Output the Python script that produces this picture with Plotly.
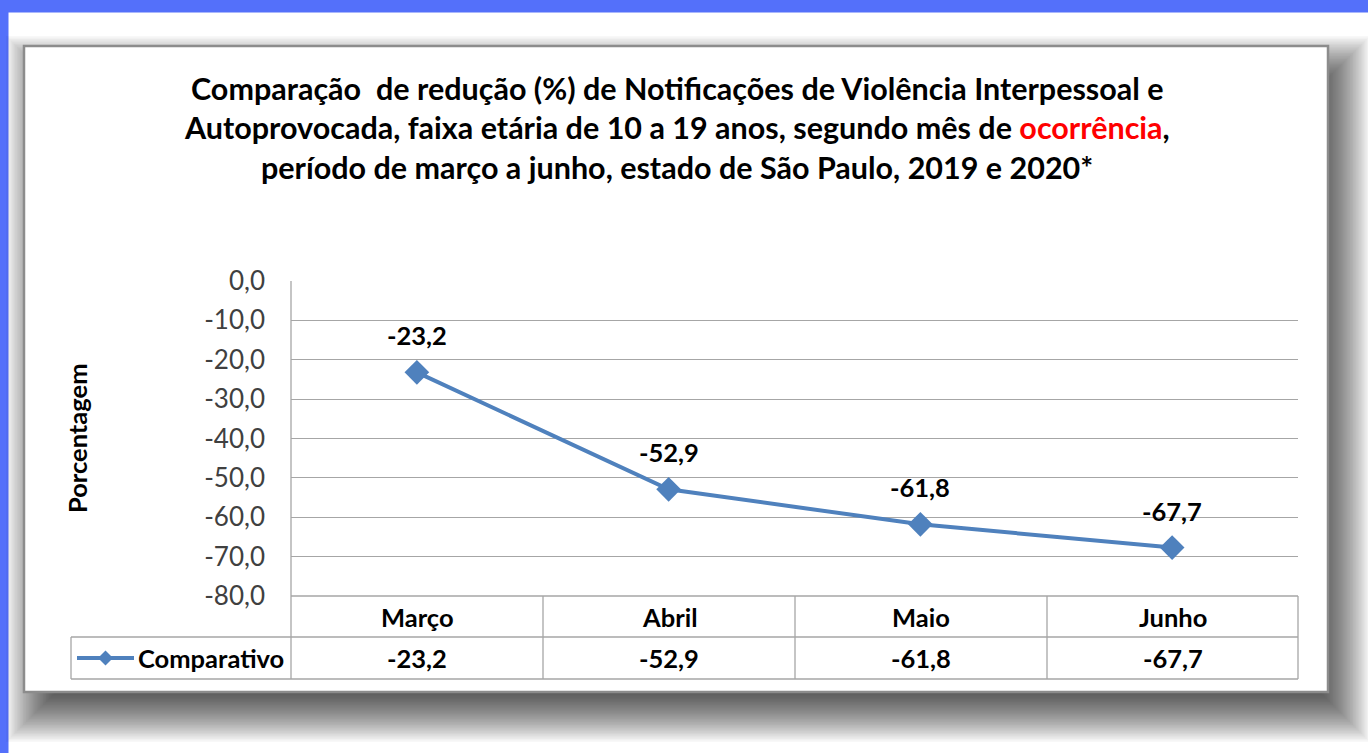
import plotly.graph_objects as go

# ---------------- data ----------------
months = ["Março", "Abril", "Maio", "Junho"]
comparativo = [-23.2, -52.9, -61.8, -67.7]
series_name = "Comparativo"
y_ticks = [0, -10, -20, -30, -40, -50, -60, -70, -80]
title_lines = [
    "Comparação  de redução (%) de Notificações de Violência Interpessoal e",
    "Autoprovocada, faixa etária de 10 a 19 anos, segundo mês de <span style='color:#FF0000'>ocorrência</span>,",
    "período de março a junho, estado de São Paulo, 2019 e 2020*",
]
y_title = "Porcentagem"

def fmt(v):
    return f"{v:.1f}".replace(".", ",")

# ---------------- geometry helpers ----------------
W, H = 1368, 753
def X(p): return p / W
def Y(p): return 1 - p / H

FONT = "Lato"
LINE_COLOR = "#4F81BD"
GRID = "#A6A6A6"
TXT = 25.5

plot_l, plot_r, plot_t, plot_b = 291, 1298, 281, 596
tab_l, row1_b, row2_b = 71, 637, 679
col_edges = [291, 543, 795, 1047, 1298]

fig = go.Figure()
fig.add_trace(go.Scatter(
    x=list(range(len(months))), y=comparativo, mode="lines+markers",
    line=dict(color=LINE_COLOR, width=4),
    marker=dict(symbol="diamond", size=19, color=LINE_COLOR),
    showlegend=False, hoverinfo="skip",
))

shapes = []
# blue frame
shapes.append(dict(type="rect", xref="paper", yref="paper", x0=0, x1=1, y0=Y(12.5), y1=1,
                   fillcolor="#5470FA", line_width=0, layer="below"))
shapes.append(dict(type="rect", xref="paper", yref="paper", x0=0, x1=X(8.5), y0=0, y1=1,
                   fillcolor="#5470FA", line_width=0, layer="below"))
# soft shadow (stacked translucent rectangles)
bl, bt, br, bb = 24, 46, 1328, 692
ox, oy, blur, N = 12, 20, 30, 40
for k in range(N):
    s = blur - 2 * blur * k / (N - 1)
    shapes.append(dict(type="rect", xref="paper", yref="paper",
                       x0=X(bl + ox - s), x1=X(br + ox + s),
                       y0=Y(bb + oy + s), y1=Y(max(bt + oy - s, 13)),
                       fillcolor="rgba(0,0,0,0.026)", line_width=0, layer="below"))
# chart box
shapes.append(dict(type="rect", xref="paper", yref="paper", x0=X(bl), x1=X(br), y0=Y(bb), y1=Y(bt),
                   fillcolor="white", line=dict(color="#8C8C8C", width=2.5), layer="below"))

def hline(y, x0, x1):
    shapes.append(dict(type="line", xref="paper", yref="paper", x0=X(x0), x1=X(x1), y0=Y(y), y1=Y(y),
                       line=dict(color=GRID, width=1.3)))
def vline(x, y0, y1):
    shapes.append(dict(type="line", xref="paper", yref="paper", x0=X(x), x1=X(x), y0=Y(y0), y1=Y(y1),
                       line=dict(color=GRID, width=1.3)))

# data table
hline(plot_b, plot_l, plot_r)
hline(row1_b, tab_l, plot_r)
hline(row2_b, tab_l, plot_r)
vline(tab_l, row1_b, row2_b)
vline(plot_l, plot_t, row2_b)
for xe in col_edges[1:]:
    vline(xe, plot_b, row2_b)

# legend key in table
ly = (row1_b + row2_b) / 2
shapes.append(dict(type="line", xref="paper", yref="paper", x0=X(77), x1=X(134), y0=Y(ly), y1=Y(ly),
                   line=dict(color=LINE_COLOR, width=4)))
cx, r = 105.5, 7.5
shapes.append(dict(type="path", xref="paper", yref="paper",
                   path=f"M {X(cx)} {Y(ly - r)} L {X(cx + r)} {Y(ly)} L {X(cx)} {Y(ly + r)} L {X(cx - r)} {Y(ly)} Z",
                   fillcolor=LINE_COLOR, line_width=0))

annotations = []
# title
for i, t in enumerate(title_lines):
    annotations.append(dict(text=t, xref="paper", yref="paper", x=X(677), y=Y(88 + i * 39.5),
                            xanchor="center", yanchor="middle", showarrow=False,
                            font=dict(family=FONT, size=30.5, color="black", weight="bold")))
# y title
annotations.append(dict(text=y_title, xref="paper", yref="paper", x=X(77), y=Y(438), textangle=-90,
                        xanchor="center", yanchor="middle", showarrow=False,
                        font=dict(family=FONT, size=TXT, color="black", weight="bold")))
# data labels
for i, v in enumerate(comparativo):
    annotations.append(dict(text=fmt(v), x=i, y=v, xref="x", yref="y", yshift=37, showarrow=False,
                            font=dict(family=FONT, size=TXT, color="black", weight="bold")))
# table text
for i, m in enumerate(months):
    cxp = (col_edges[i] + col_edges[i + 1]) / 2
    annotations.append(dict(text=m, xref="paper", yref="paper", x=X(cxp), y=Y(617), showarrow=False,
                            xanchor="center", yanchor="middle",
                            font=dict(family=FONT, size=TXT, color="black", weight="bold")))
    annotations.append(dict(text=fmt(comparativo[i]), xref="paper", yref="paper", x=X(cxp), y=Y(658),
                            showarrow=False, xanchor="center", yanchor="middle",
                            font=dict(family=FONT, size=TXT, color="black", weight="bold")))
annotations.append(dict(text=series_name, xref="paper", yref="paper", x=X(136), y=Y(658), showarrow=False,
                        xanchor="left", yanchor="middle",
                        font=dict(family=FONT, size=TXT, color="black", weight="bold")))

fig.update_layout(
    width=W, height=H, margin=dict(l=0, r=0, t=0, b=0, pad=0, autoexpand=False),
    paper_bgcolor="white", plot_bgcolor="rgba(0,0,0,0)",
    separators=",.",
    xaxis=dict(domain=[X(plot_l), X(plot_r)], range=[-0.5, 3.5], showticklabels=False,
               showgrid=False, zeroline=False, showline=False, fixedrange=True, automargin=False),
    yaxis=dict(domain=[Y(plot_b), Y(plot_t)], range=[-80, 0],
               tickvals=y_ticks, ticktext=[fmt(v) for v in y_ticks],
               showgrid=True, gridcolor=GRID, gridwidth=1.3, zeroline=False, showline=False,
               ticks="", ticklabelstandoff=25, automargin=False, fixedrange=True,
               tickfont=dict(family=FONT, size=26, color="#404040")),
    shapes=shapes, annotations=annotations, showlegend=False,
)

fig.write_html("out.html", config={"displayModeBar": False},
               post_script="document.body.style.margin='0';document.body.style.overflow='hidden';")
